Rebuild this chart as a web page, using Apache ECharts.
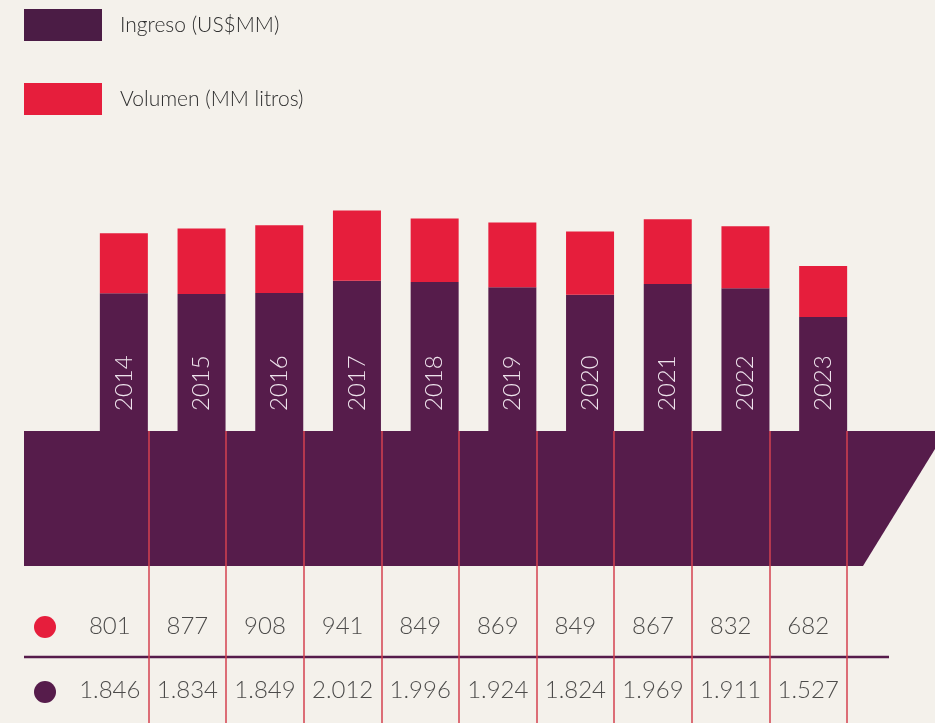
<!DOCTYPE html>
<html>
<head>
<meta charset="utf-8">
<script src="https://cdn.jsdelivr.net/npm/echarts@6/dist/echarts.min.js"></script>
<style>
  html, body { margin: 0; padding: 0; background: #f4f1eb; }
  #chart { width: 935px; height: 723px; }
</style>
</head>
<body>
<div id="chart"></div>
<script>
// ========= datos =========
const years = ['2014', '2015', '2016', '2017', '2018', '2019', '2020', '2021', '2022', '2023'];
const volumen = [801, 877, 908, 941, 849, 869, 849, 867, 832, 682];
const ingreso = [1846, 1834, 1849, 2012, 1996, 1924, 1824, 1969, 1911, 1527];

const PURPLE = '#561c4b';
const RED = '#e61e3c';
const FONT = 'Lato';

// 1846 -> "1.846"
const fmt = n => String(n).replace(/\B(?=(\d{3})+(?!\d))/g, '.');

const chart = echarts.init(document.getElementById('chart'));

chart.setOption({
  backgroundColor: '#f4f1eb',
  animation: false,
  textStyle: { fontFamily: FONT },
  legend: {
    orient: 'vertical',
    left: 24,
    top: 9,
    padding: 0,
    itemWidth: 78,
    itemHeight: 32,
    itemGap: 42,
    icon: 'rect',
    textStyle: { fontSize: 21, color: '#2e2e2e', fontWeight: 300, padding: [0, 0, 0, 13] },
    data: [
      { name: 'Ingreso (US$MM)', itemStyle: { color: '#4b1c45' } },
      { name: 'Volumen (MM litros)', itemStyle: { color: RED } }
    ]
  },
  grid: [
    { left: 85, right: 73, top: 207, bottom: 292 },   // barras
    { left: 71, right: 88, top: 431, bottom: 0 },     // lineas de la tabla
    { left: 71, right: 88, top: 594, height: 130 }    // valores de la tabla
  ],
  xAxis: [
    { type: 'category', gridIndex: 0, data: years, show: false },
    {
      type: 'category', gridIndex: 1, data: years,
      axisLine: { show: false }, axisTick: { show: false }, axisLabel: { show: false },
      splitLine: {
        show: true,
        interval: (idx) => idx > 0,
        lineStyle: { color: '#d4404f', width: 1.5 }
      }
    },
    { type: 'category', gridIndex: 2, data: years, show: false }
  ],
  yAxis: [
    { type: 'value', gridIndex: 0, min: 0, max: 3000, show: false },
    { type: 'value', gridIndex: 1, show: false },
    { type: 'category', gridIndex: 2, data: ['Ingreso', 'Volumen'], show: false }
  ],
  graphic: [
    {
      type: 'polygon', z: -1,
      shape: { points: [[24, 431], [946, 431], [863, 566], [24, 566]] },
      style: { fill: PURPLE }
    },
    { type: 'line', shape: { x1: 24, y1: 657, x2: 889, y2: 657 }, style: { stroke: '#561c4b', lineWidth: 2.5 } },
    { type: 'circle', shape: { cx: 45, cy: 627, r: 11 }, style: { fill: RED } },
    { type: 'circle', shape: { cx: 45, cy: 692, r: 11 }, style: { fill: PURPLE } }
  ],
  series: [
    {
      name: 'Ingreso (US$MM)',
      type: 'bar', stack: 'total', xAxisIndex: 0, yAxisIndex: 0,
      barWidth: 48,
      itemStyle: { color: PURPLE },
      label: {
        show: true,
        position: 'insideBottom',
        distance: 20,
        rotate: 90,
        align: 'left',
        verticalAlign: 'middle',
        formatter: '{b}',
        color: '#eee3ec',
        fontSize: 24,
        fontWeight: 300,
        fontFamily: FONT
      },
      data: ingreso
    },
    {
      name: 'Volumen (MM litros)',
      type: 'bar', stack: 'total', xAxisIndex: 0, yAxisIndex: 0,
      barWidth: 48,
      itemStyle: { color: RED },
      data: volumen
    },
    {
      type: 'scatter', xAxisIndex: 2, yAxisIndex: 2,
      symbolSize: 1, itemStyle: { color: 'rgba(0,0,0,0)' },
      label: {
        show: true, position: 'inside',
        formatter: p => fmt(p.value[2]),
        color: '#222', fontSize: 24, fontWeight: 300, fontFamily: FONT
      },
      data: years.map((y, i) => [y, 'Volumen', volumen[i]])
    },
    {
      type: 'scatter', xAxisIndex: 2, yAxisIndex: 2,
      symbolSize: 1, itemStyle: { color: 'rgba(0,0,0,0)' },
      label: {
        show: true, position: 'inside',
        formatter: p => fmt(p.value[2]),
        color: '#222', fontSize: 24, fontWeight: 300, fontFamily: FONT
      },
      data: years.map((y, i) => [y, 'Ingreso', ingreso[i]])
    }
  ]
});
</script>
</body>
</html>
